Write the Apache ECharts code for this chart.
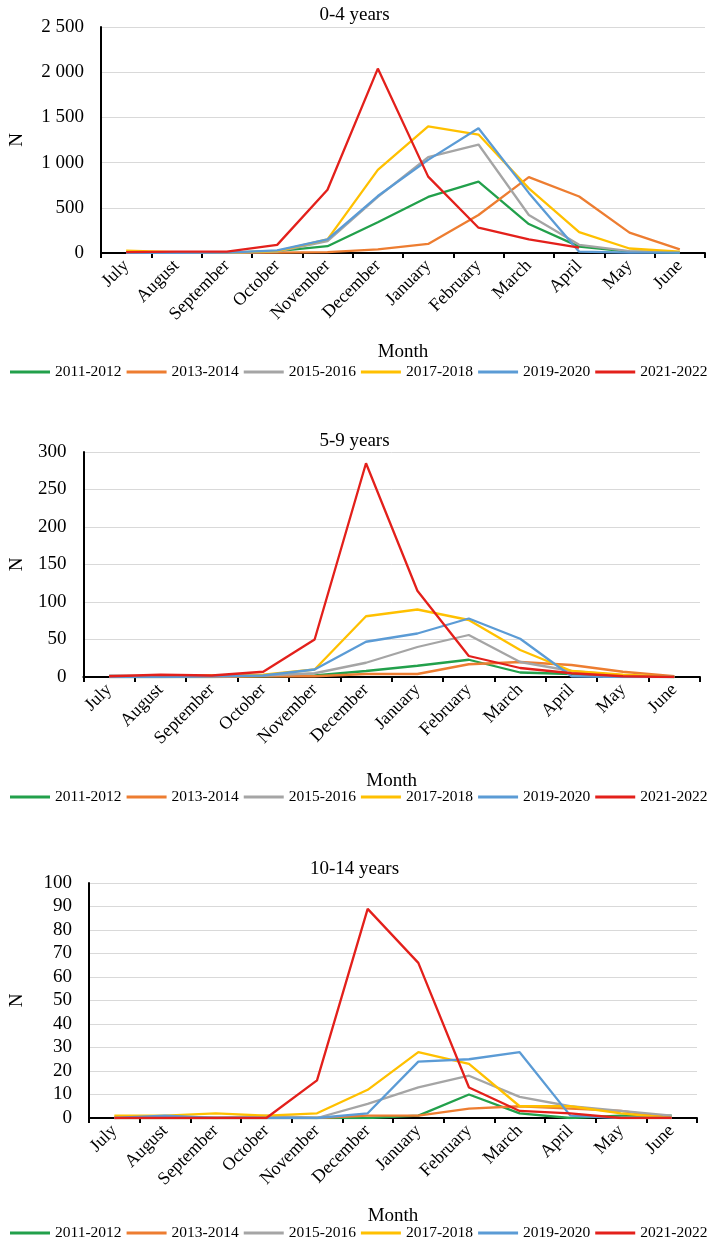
<!DOCTYPE html>
<html>
<head>
<meta charset="utf-8">
<script src="https://cdn.jsdelivr.net/npm/echarts@6/dist/echarts.min.js"></script>
<style>
  html, body { margin: 0; padding: 0; background: #fff; }
  #chart { width: 709px; height: 1245px; }
</style>
</head>
<body>
<div id="chart"></div>
<script>
const months = ['July', 'August', 'September', 'October', 'November', 'December',
  'January', 'February', 'March', 'April', 'May', 'June'];
const seasons = ['2011-2012', '2013-2014', '2015-2016', '2017-2018', '2019-2020', '2021-2022'];
const colors = ['#22a04b', '#ed7d31', '#a5a5a5', '#ffc000', '#5b9bd5', '#e3201b'];
const titles = ['0-4 years', '5-9 years', '10-14 years'];

// 0-4 years
const g1 = [2, 3, 3, 20, 75, 340, 620, 790, 320, 70, 15, 5];
const o1 = [5, 3, 2, 5, 10, 40, 100, 420, 840, 625, 225, 40];
const gr1 = [5, 3, 3, 15, 130, 620, 1060, 1200, 420, 90, 20, 10];
const y1 = [25, 10, 5, 20, 150, 920, 1400, 1310, 715, 230, 50, 15];
const b1 = [3, 3, 5, 30, 150, 630, 1030, 1380, 665, 15, 5, 5];
const r1 = [10, 15, 15, 90, 700, 2040, 845, 280, 150, 60, null, null];

// 5-9 years
const g2 = [0, 0, 0, 1, 2, 8, 15, 23, 6, 4, 1, 0];
const o2 = [0, 0, 0, 1, 1, 4, 4, 17, 20, 16, 7, 1];
const gr2 = [2, 1, 1, 2, 5, 19, 40, 56, 20, 8, 2, 0];
const y2 = [1, 1, 2, 3, 10, 81, 90, 76, 36, 8, 3, 0];
const b2 = [0, 0, 1, 2, 10, 47, 58, 78, 51, 1, 0, 0];
const r2 = [1, 3, 2, 7, 50, 285, 115, 28, 12, 5, 1, 0];

// 10-14 years
const g3 = [0, 0, 0, 0, 0, 0, 1, 10, 2, 0, 1, 1];
const o3 = [0, 0, 0, 0, 0, 1, 1, 4, 5, 4, 3, 0];
const gr3 = [0, 0, 0, 1, 0, 6, 13, 18, 9, 5, 3, 1];
const y3 = [1, 1, 2, 1, 2, 12, 28, 23, 5, 5, 2, 0];
const b3 = [0, 1, 0, 0, 0, 2, 24, 25, 28, 1, 0, 0];
const r3 = [0, 0, 0, 0, 16, 89, 66, 13, 3, 2, 0, 0];

const panels = [[g1, o1, gr1, y1, b1, r1], [g2, o2, gr2, y2, b2, r2], [g3, o3, gr3, y3, b3, r3]];
const yMax = [2500, 300, 100];
const yStep = [500, 50, 10];

const font = "'Liberation Serif', 'Times New Roman', serif";
// layout of each panel
const grids = [
  { left: 89, right: 4, top: 27, height: 226 },
  { left: 70, right: 9, top: 452, height: 225 },
  { left: 77, right: 12, top: 883, height: 235 }
];
const titleTops = [1, 427, 855];
const legendTops = [364, 789, 1225];
const yNameGaps = [74, 55, 62];
const xNameGaps = [90, 95, 89];

const spaced = v => String(v).replace(/\B(?=(\d{3})+(?!\d))/g, ' ');

const option = {
  backgroundColor: '#fff',
  animation: false,
  textStyle: { fontFamily: font, color: '#000' },
  title: titles.map((t, i) => ({
    text: t, left: 'center', top: titleTops[i],
    textStyle: { fontFamily: font, fontSize: 19, fontWeight: 'normal', color: '#000' }
  })),
  legend: legendTops.map(top => ({
    data: seasons, top: top, left: 10, width: 705, padding: 0,
    icon: 'rect', itemWidth: 40, itemHeight: 3, itemGap: 5,
    textStyle: { fontFamily: font, fontSize: 15.5, color: '#000' }
  })),
  grid: grids,
  xAxis: grids.map((g, i) => ({
    type: 'category', gridIndex: i, data: months, boundaryGap: true,
    name: 'Month', nameLocation: 'middle', nameGap: xNameGaps[i],
    nameTextStyle: { fontFamily: font, fontSize: 19, color: '#000' },
    axisLine: { lineStyle: { color: '#000', width: 2 } },
    axisTick: { show: true, length: 5, lineStyle: { color: '#000', width: 2 } },
    axisLabel: { rotate: 45, margin: 10, fontFamily: font, fontSize: 18, color: '#000', interval: 0 }
  })),
  yAxis: grids.map((g, i) => ({
    type: 'value', gridIndex: i, min: 0, max: yMax[i], interval: yStep[i],
    name: 'N', nameLocation: 'middle', nameGap: yNameGaps[i],
    nameTextStyle: { fontFamily: font, fontSize: 19, color: '#000' },
    axisLine: { show: true, lineStyle: { color: '#000', width: 2 } },
    axisTick: { show: false },
    splitLine: { lineStyle: { color: '#d9d9d9', width: 1 } },
    axisLabel: {
      margin: 17, fontFamily: font, fontSize: 19, color: '#000',
      formatter: i === 0 ? spaced : undefined
    }
  })),
  series: []
};

panels.forEach((sets, p) => {
  sets.forEach((vals, s) => {
    option.series.push({
      name: seasons[s], type: 'line', xAxisIndex: p, yAxisIndex: p,
      data: vals, showSymbol: false, symbol: 'none',
      color: colors[s],
      lineStyle: { width: 2.3, color: colors[s] },
      z: 2 + s
    });
  });
});

const chart = echarts.init(document.getElementById('chart'));
chart.setOption(option);
</script>
</body>
</html>
